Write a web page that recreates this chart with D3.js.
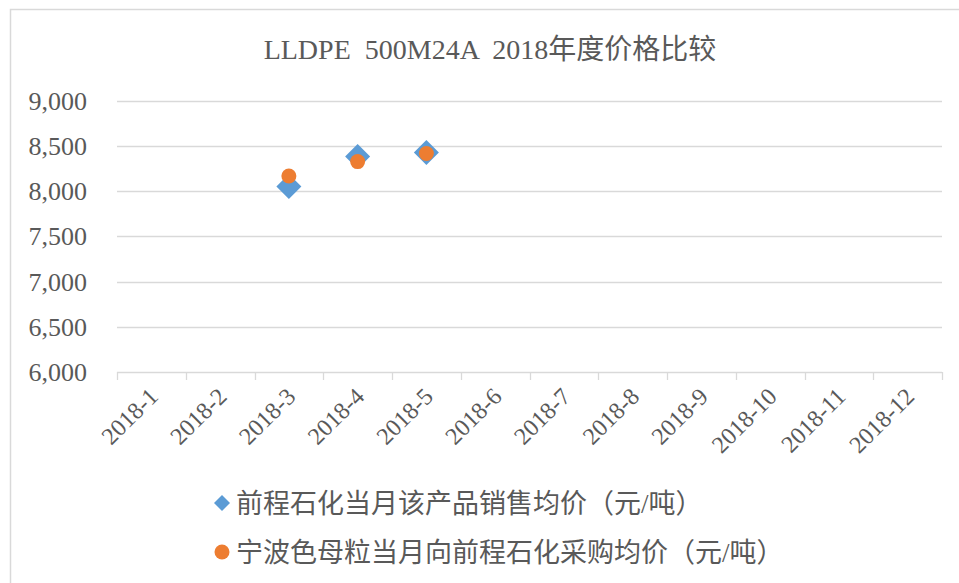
<!DOCTYPE html>
<html>
<head>
<meta charset="utf-8">
<script src="https://cdn.jsdelivr.net/npm/d3@7"></script>
<style>
  html, body { margin: 0; padding: 0; background: #fff; }
  svg { display: block; }
</style>
</head>
<body>
<svg id="chart" width="959" height="583"></svg>
<script>
const title = "LLDPE  500M24A  2018年度价格比较";
const categories = ["2018-1","2018-2","2018-3","2018-4","2018-5","2018-6","2018-7","2018-8","2018-9","2018-10","2018-11","2018-12"];
const salesPrice = [null, null, 8050, 8380, 8425, null, null, null, null, null, null, null];
const purchasePrice = [null, null, 8165, 8325, 8415, null, null, null, null, null, null, null];
const seriesNames = ["前程石化当月该产品销售均价（元/吨）", "宁波色母粒当月向前程石化采购均价（元/吨）"];
const yTicks = [6000, 6500, 7000, 7500, 8000, 8500, 9000];

(function () {
const blue = "#5B9BD5", orange = "#ED7D31", textColor = "#595959", gridColor = "#D9D9D9";
const latin = "'Liberation Serif', 'Times New Roman', serif";
const cjk = "'Liberation Serif', 'Noto Sans CJK SC', serif";

const svg = d3.select("#chart");

// chart frame
svg.append("rect").attr("x", 10.5).attr("y", 9.5).attr("width", 970).attr("height", 600)
  .attr("fill", "#fff").attr("stroke", "#D9D9D9").attr("stroke-width", 1.5);

const pLeft = 117, pRight = 942, pTop = 100.5, pBottom = 372;

const x = d3.scaleBand().domain(categories).range([pLeft, pRight]);
const y = d3.scaleLinear().domain([6000, 9000]).range([pBottom, pTop]);

// title
svg.append("text").attr("x", 490).attr("y", 59).attr("text-anchor", "middle")
  .attr("fill", textColor).style("font-family", cjk).style("font-size", "28px")
  .style("white-space", "pre").attr("xml:space", "preserve")
  .text(title);

// gridlines
svg.append("g").selectAll("line").data(yTicks.filter(d => d !== 6000)).join("line")
  .attr("x1", pLeft).attr("x2", pRight)
  .attr("y1", d => Math.round(y(d)) + 0.5).attr("y2", d => Math.round(y(d)) + 0.5)
  .attr("stroke", gridColor).attr("stroke-width", 1.3);

// y labels
svg.append("g").selectAll("text").data(yTicks).join("text")
  .attr("x", 87).attr("y", d => y(d) + 9)
  .attr("text-anchor", "end").attr("fill", textColor)
  .style("font-family", latin).style("font-size", "26px")
  .text(d => d3.format(",")(d));

// x axis line and ticks
const xAxis = svg.append("g");
xAxis.append("line").attr("x1", pLeft).attr("x2", pRight)
  .attr("y1", Math.round(pBottom) + 0.5).attr("y2", Math.round(pBottom) + 0.5)
  .attr("stroke", gridColor).attr("stroke-width", 1.3);
const boundaries = categories.map(c => x(c)).concat([pRight]);
xAxis.selectAll("line.tick").data(boundaries).join("line").attr("class", "tick")
  .attr("x1", d => Math.round(d) + 0.5).attr("x2", d => Math.round(d) + 0.5)
  .attr("y1", pBottom).attr("y2", pBottom + 8)
  .attr("stroke", gridColor).attr("stroke-width", 1.3);

// x labels
xAxis.selectAll("text").data(categories).join("text")
  .attr("transform", d => `translate(${x(d) + x.bandwidth() / 2 + 8},${398}) rotate(-45)`)
  .attr("text-anchor", "end").attr("fill", textColor)
  .style("font-family", latin).style("font-size", "24px")
  .text(d => d);

const diamond = (s) => `M0,${-s}L${s},0L0,${s}L${-s},0Z`;

// series 1: diamonds
svg.append("g").selectAll("path").data(categories.map((c, i) => ({c, v: salesPrice[i]})).filter(d => d.v != null))
  .join("path")
  .attr("transform", d => `translate(${x(d.c) + x.bandwidth() / 2},${y(d.v)})`)
  .attr("d", diamond(12.5)).attr("fill", blue);

// series 2: circles
svg.append("g").selectAll("circle").data(categories.map((c, i) => ({c, v: purchasePrice[i]})).filter(d => d.v != null))
  .join("circle")
  .attr("cx", d => x(d.c) + x.bandwidth() / 2).attr("cy", d => y(d.v))
  .attr("r", 7.5).attr("fill", orange);

// legend
const leg = svg.append("g");
leg.append("path").attr("transform", "translate(222,503)").attr("d", diamond(8)).attr("fill", blue);
leg.append("circle").attr("cx", 222).attr("cy", 552).attr("r", 7.5).attr("fill", orange);
leg.selectAll("text").data(seriesNames).join("text")
  .attr("x", 236).attr("y", (d, i) => 513 + i * 49)
  .attr("fill", textColor).style("font-family", cjk).style("font-size", "27px")
  .text(d => d);
})();
</script>
</body>
</html>
